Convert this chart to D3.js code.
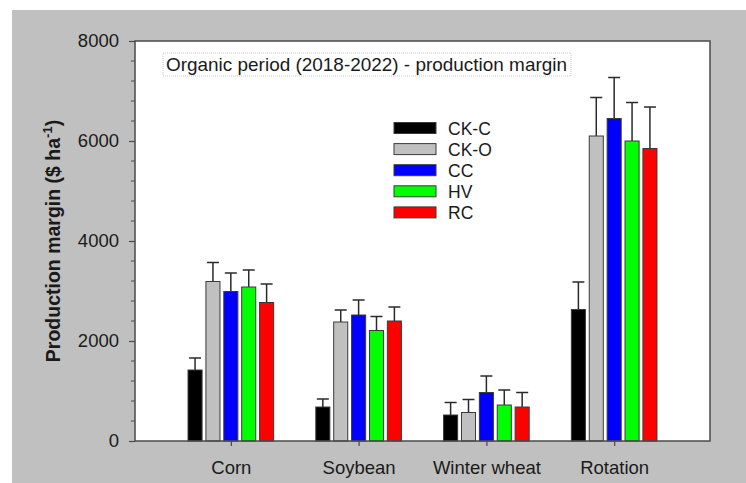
<!DOCTYPE html>
<html><head><meta charset="utf-8">
<script src="https://cdn.jsdelivr.net/npm/d3@7"></script>
<style>body{margin:0;background:#fff;}svg{display:block;font-family:"Liberation Sans",Arial,sans-serif;}</style>
</head><body>
<svg id="chart" width="746" height="483"></svg>
<script>
const categories = ["Corn", "Soybean", "Winter wheat", "Rotation"];
const seriesNames = ["CK-C", "CK-O", "CC", "HV", "RC"];
const seriesColors = ["#000000", "#c0c0c0", "#0000ff", "#00ff00", "#ff0000"];
const means = [
  [1420, 3190, 2990, 3080, 2770],
  [680, 2380, 2520, 2210, 2400],
  [520, 570, 970, 720, 680],
  [2630, 6100, 6450, 6000, 5850]
];
const errors = [
  [240, 380, 370, 340, 370],
  [160, 240, 300, 280, 280],
  [250, 260, 330, 300, 290],
  [550, 770, 820, 770, 830]
];
const yTicks = [0, 2000, 4000, 6000, 8000];
const titleText = "Organic period (2018-2022) - production margin";

const svg = d3.select("#chart");
svg.append("rect").attr("x", 12).attr("y", 10).attr("width", 734).attr("height", 473).attr("fill", "#c0c0c0");

const L = 135, R = 710, T = 41, B = 441;
svg.append("rect").attr("x", L).attr("y", T).attr("width", R - L).attr("height", B - T).attr("fill", "#fff");

const x = d3.scaleLinear().domain([0.25, 4.75]).range([L, R]);
const y = d3.scaleLinear().domain([0, 8000]).range([B, T]);
const step = 0.14, bw = 0.11;

const g = svg.append("g");
categories.forEach((c, ci) => {
  seriesNames.forEach((s, si) => {
    const cx = ci + 1 + (si - 2) * step;
    const x0 = x(cx - bw / 2), x1 = x(cx + bw / 2);
    const top = means[ci][si] + errors[ci][si];
    g.append("line").attr("x1", x(cx)).attr("x2", x(cx)).attr("y1", y(means[ci][si])).attr("y2", y(top))
      .attr("stroke", "#2a2a2a").attr("stroke-width", 1.5);
    g.append("line").attr("x1", x(cx) - 6).attr("x2", x(cx) + 6).attr("y1", y(top)).attr("y2", y(top))
      .attr("stroke", "#2a2a2a").attr("stroke-width", 1.5);
    g.append("rect").attr("x", x0).attr("y", y(means[ci][si])).attr("width", x1 - x0)
      .attr("height", y(0) - y(means[ci][si])).attr("fill", seriesColors[si])
      .attr("stroke", "#3a3a3a").attr("stroke-width", 1);
  });
});

svg.append("rect").attr("x", L).attr("y", T).attr("width", R - L).attr("height", B - T)
  .attr("fill", "none").attr("stroke", "#4a4a4a").attr("stroke-width", 1.5);

const yAxis = d3.axisLeft(y).tickValues(yTicks).tickSize(6).tickPadding(10).tickFormat(d3.format("d"));
const ya = svg.append("g").attr("transform", `translate(${L},0)`).call(yAxis);
ya.select(".domain").remove();
ya.selectAll("line").attr("stroke", "#4a4a4a").attr("stroke-width", 1.2);
ya.selectAll("text").attr("font-size", 18.5).attr("fill", "#1a1a1a").attr("font-family", "Liberation Sans, Arial, sans-serif");
const minor = d3.range(0, 8001, 400).filter(v => v % 2000 !== 0);
svg.append("g").selectAll("line").data(minor).join("line")
  .attr("x1", L - 4).attr("x2", L).attr("y1", d => y(d)).attr("y2", d => y(d))
  .attr("stroke", "#4a4a4a").attr("stroke-width", 1);

const xAxis = d3.axisBottom(x).tickValues([1, 2, 3, 4]).tickSize(5).tickPadding(15).tickFormat(d => categories[d - 1]);
const xa = svg.append("g").attr("transform", `translate(0,${B})`).call(xAxis);
xa.select(".domain").remove();
xa.selectAll("line").attr("stroke", "#4a4a4a").attr("stroke-width", 1.2);
xa.selectAll("text").attr("font-size", 18.5).attr("fill", "#1a1a1a").attr("font-family", "Liberation Sans, Arial, sans-serif");

const yl = svg.append("text").attr("transform", `translate(60,${(T + B) / 2}) rotate(-90)`)
  .attr("text-anchor", "middle").attr("font-size", 19.5).attr("font-weight", "bold").attr("fill", "#1a1a1a");
yl.append("tspan").text("Production margin ($ ha");
yl.append("tspan").attr("dy", -8).attr("font-size", 13).text("-1");
yl.append("tspan").attr("dy", 8).text(")");

svg.append("rect").attr("x", 163).attr("y", 53).attr("width", 408).attr("height", 23)
  .attr("fill", "#fff").attr("stroke", "#c8c8c8").attr("stroke-width", 1).attr("stroke-dasharray", "1,1");
svg.append("text").attr("x", 166).attr("y", 71).attr("font-size", 19).attr("fill", "#1a1a1a")
  .attr("textLength", 401).attr("lengthAdjust", "spacingAndGlyphs").text(titleText);

const lg = svg.append("g");
seriesNames.forEach((s, i) => {
  const yy = 128 + i * 21.1;
  lg.append("rect").attr("x", 394).attr("y", yy - 5.5).attr("width", 42).attr("height", 11)
    .attr("fill", seriesColors[i]).attr("stroke", "#3a3a3a").attr("stroke-width", 1);
  lg.append("text").attr("x", 448).attr("y", yy + 6.5).attr("font-size", 17.5).attr("fill", "#1a1a1a").text(s);
});
</script>
</body></html>
